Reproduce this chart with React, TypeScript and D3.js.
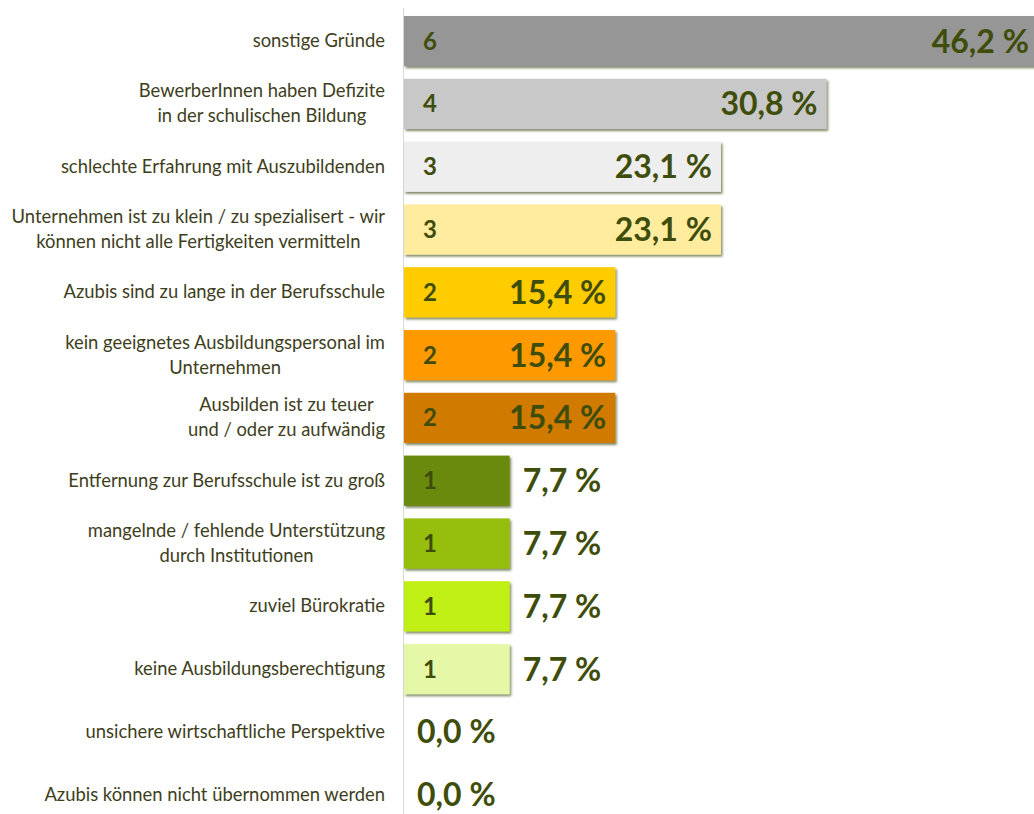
import React, { useEffect, useRef } from "react";
import * as d3 from "d3";

// Data
const categories = [
  "sonstige Gründe",
  "BewerberInnen haben Defizite\nin der schulischen Bildung",
  "schlechte Erfahrung mit Auszubildenden",
  "Unternehmen ist zu klein / zu spezialisert - wir\nkönnen nicht alle Fertigkeiten vermitteln",
  "Azubis sind zu lange in der Berufsschule",
  "kein geeignetes Ausbildungspersonal im\nUnternehmen",
  "Ausbilden ist zu teuer\nund / oder zu aufwändig",
  "Entfernung zur Berufsschule ist zu groß",
  "mangelnde / fehlende Unterstützung\ndurch Institutionen",
  "zuviel Bürokratie",
  "keine Ausbildungsberechtigung",
  "unsichere wirtschaftliche Perspektive",
  "Azubis können nicht übernommen werden",
];
const counts = [6, 4, 3, 3, 2, 2, 2, 1, 1, 1, 1, 0, 0];
const percents = [46.2, 30.8, 23.1, 23.1, 15.4, 15.4, 15.4, 7.7, 7.7, 7.7, 7.7, 0, 0];
const barColors = [
  "#969696", "#c8c8c8", "#eeeeee", "#ffec9f", "#ffcc00", "#ff9900",
  "#d07a00", "#6b8a0e", "#96bf0d", "#c0ef12", "#e5f8a7", "#ffffff", "#ffffff",
];

const W = 1034;
const H = 814;
const FONT = "Lato, 'Open Sans', sans-serif";
const DARK = "#3f4d0b";

const App = () => {
  const svgRef = useRef<SVGSVGElement>(null);

  useEffect(() => {
    const svg = d3.select(svgRef.current);
    svg.selectAll("*").remove();

    const x = d3.scaleLinear().domain([0, 50]).range([404, 404 + 50 * 13.72]);
    const y = d3
      .scaleBand<number>()
      .domain(d3.range(categories.length))
      .range([9.7, 826.1])
      .paddingInner(0.2)
      .paddingOuter(0.1);

    const defs = svg.append("defs");
    const f = defs
      .append("filter")
      .attr("id", "shadow")
      .attr("x", "-5%")
      .attr("y", "-20%")
      .attr("width", "115%")
      .attr("height", "160%");
    f.append("feDropShadow")
      .attr("dx", 1.5)
      .attr("dy", 2)
      .attr("stdDeviation", 1.2)
      .attr("flood-color", "#3f4d0b")
      .attr("flood-opacity", 0.65);

    // axis line
    svg
      .append("line")
      .attr("x1", 403.5)
      .attr("x2", 403.5)
      .attr("y1", 8)
      .attr("y2", H)
      .attr("stroke", "#d9d9d9")
      .attr("stroke-width", 1);

    const rows = svg
      .selectAll("g.row")
      .data(categories)
      .enter()
      .append("g")
      .attr("class", "row");

    // bars
    rows
      .filter((d, i) => percents[i] > 0)
      .append("rect")
      .attr("x", x(0))
      .attr("y", (d, i) => y(i)!)
      .attr("width", (d, i) => x(percents[i]) - x(0))
      .attr("height", y.bandwidth())
      .attr("fill", (d, i) => barColors[i])
      .attr("filter", "url(#shadow)");

    // counts
    rows
      .filter((d, i) => counts[i] > 0)
      .append("text")
      .attr("x", 430)
      .attr("y", (d, i) => y(i)! + y.bandwidth() / 2 + 8.5)
      .attr("text-anchor", "middle")
      .style("font-family", FONT)
      .style("font-weight", "bold")
      .style("font-size", "24px")
      .style("fill", DARK)
      .text((d, i) => counts[i]);

    // percent labels
    rows
      .append("text")
      .attr("x", (d, i) => (percents[i] > 10 ? x(percents[i]) - 9 : x(percents[i]) + 13))
      .attr("y", (d, i) => y(i)! + y.bandwidth() / 2 + 11.5)
      .attr("text-anchor", (d, i) => (percents[i] > 10 ? "end" : "start"))
      .style("font-family", FONT)
      .style("font-weight", "bold")
      .style("font-size", "32px")
      .style("fill", DARK)
      .text((d, i) => d3.format(".1f")(percents[i]).replace(".", ",") + " %");

    // category labels
    rows.each(function (d, i) {
      const g = d3.select(this);
      const lines = d.split("\n");
      const cy = y(i)! + y.bandwidth() / 2;
      const texts = lines.map((line, k) =>
        g
          .append("text")
          .attr("y", cy + 6 + (k - (lines.length - 1) / 2) * 25)
          .style("font-family", FONT)
          .style("font-size", "18.4px")
          .style("fill", "#3e3e1c")
          .text(line)
      );
      if (lines.length === 1) {
        texts[0].attr("x", 385).attr("text-anchor", "end");
      } else {
        const maxW = d3.max(texts, (t) => (t.node() as SVGTextElement).getComputedTextLength())!;
        texts.forEach((t) => t.attr("x", 385 - maxW / 2).attr("text-anchor", "middle"));
      }
    });
  }, []);

  return (
    <svg
      ref={svgRef}
      width={W}
      height={H}
      style={{ position: "absolute", left: 0, top: 0, background: "#fff" }}
    />
  );
};

export default App;
